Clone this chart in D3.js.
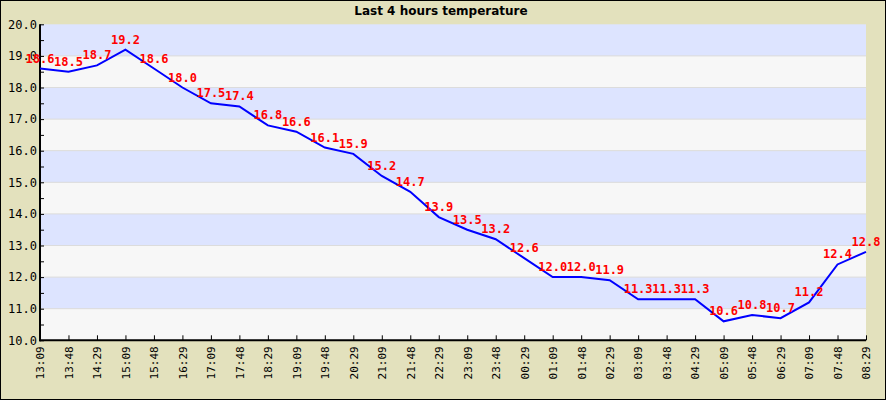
<!DOCTYPE html>
<html>
<head>
<meta charset="utf-8">
<script src="https://cdn.jsdelivr.net/npm/d3@7"></script>
<style>
  body { margin: 0; background: #fff; }
  svg { display: block; }
</style>
</head>
<body>
<svg id="chart" width="886" height="400"></svg>
<script>
const times = ['13:09','13:48','14:29','15:09','15:48','16:29','17:09','17:48','18:29','19:09',
  '19:48','20:29','21:09','21:48','22:29','23:09','23:48','00:29','01:09','01:48',
  '02:29','03:09','03:48','04:29','05:09','05:48','06:29','07:09','07:48','08:29'];
const temps = [18.6, 18.5, 18.7, 19.2, 18.6, 18.0, 17.5, 17.4, 16.8, 16.6,
  16.1, 15.9, 15.2, 14.7, 13.9, 13.5, 13.2, 12.6, 12.0, 12.0,
  11.9, 11.3, 11.3, 11.3, 10.6, 10.8, 10.7, 11.2, 12.4, 12.8];
const yTicks = [10, 11, 12, 13, 14, 15, 16, 17, 18, 19, 20];

const W = 886, H = 400;
const plot = { left: 40, right: 866, top: 24.3, bottom: 340.3 };

const svg = d3.select('#chart');

svg.append('rect')
  .attr('x', 0.5).attr('y', 0.5)
  .attr('width', W - 1).attr('height', H - 1)
  .attr('fill', '#e3e1bd')
  .attr('stroke', '#000');

const x = d3.scalePoint().domain(times).range([plot.left, plot.right]);
const y = d3.scaleLinear().domain([10, 20]).range([plot.bottom, plot.top]);

// alternating bands
const bands = d3.range(10, 20);
svg.append('g').selectAll('rect')
  .data(bands)
  .join('rect')
  .attr('x', plot.left)
  .attr('y', d => y(d + 1))
  .attr('width', plot.right - plot.left)
  .attr('height', d => y(d) - y(d + 1))
  .attr('fill', d => d % 2 === 0 ? '#f7f7f7' : '#dde4ff');

// grid lines
svg.append('g').selectAll('line')
  .data(yTicks.slice(1, -1))
  .join('line')
  .attr('x1', plot.left).attr('x2', plot.right)
  .attr('y1', d => y(d)).attr('y2', d => y(d))
  .attr('stroke', '#dcdcdc')
  .attr('stroke-width', 1);

// y axis
const yAxis = d3.axisLeft(y)
  .tickValues(d3.range(10, 20.01, 0.5))
  .tickSize(-4)
  .tickFormat(d => Number.isInteger(d) ? d.toFixed(1) : '');
const gy = svg.append('g')
  .attr('transform', `translate(${plot.left},0)`)
  .call(yAxis);
gy.select('.domain').attr('stroke-width', 2).attr('d', `M0,${plot.top}V${plot.bottom + 1}`);
gy.selectAll('.tick line').attr('stroke', '#000');
gy.selectAll('.tick text')
  .attr('x', -3)
  .attr('fill', '#000')
  .style('font-family', 'DejaVu Sans Mono, monospace')
  .style('font-size', '12px');

// x axis
const xAxis = d3.axisBottom(x).tickSize(-5).tickSizeOuter(0);
const gx = svg.append('g')
  .attr('transform', `translate(0,${plot.bottom})`)
  .call(xAxis);
gx.select('.domain').attr('stroke-width', 2).attr('d', `M${plot.left - 1},0H${plot.right}`);
gx.selectAll('.tick line').attr('stroke', '#000');
gx.selectAll('.tick text')
  .attr('transform', 'rotate(-90)')
  .attr('x', -6)
  .attr('y', 0)
  .attr('dy', '0.35em')
  .attr('text-anchor', 'end')
  .attr('fill', '#000')
  .style('font-family', 'DejaVu Sans Mono, monospace')
  .style('font-size', '11px');

// line
const line = d3.line()
  .x((d, i) => x(times[i]))
  .y(d => y(d));
svg.append('path')
  .datum(temps)
  .attr('d', line)
  .attr('fill', 'none')
  .attr('stroke', '#0000ff')
  .attr('stroke-width', 2);

// value labels
svg.append('g').selectAll('text')
  .data(temps)
  .join('text')
  .attr('x', (d, i) => x(times[i]))
  .attr('y', d => y(d) - 6)
  .attr('text-anchor', 'middle')
  .attr('fill', '#ff0000')
  .style('font-family', 'DejaVu Sans Mono, monospace')
  .style('font-weight', 'bold')
  .style('font-size', '12px')
  .text(d => d.toFixed(1));

// title
svg.append('text')
  .attr('x', 441)
  .attr('y', 15)
  .attr('text-anchor', 'middle')
  .style('font-family', 'DejaVu Sans, sans-serif')
  .style('font-weight', 'bold')
  .style('font-size', '12px')
  .text('Last 4 hours temperature');
</script>
</body>
</html>
